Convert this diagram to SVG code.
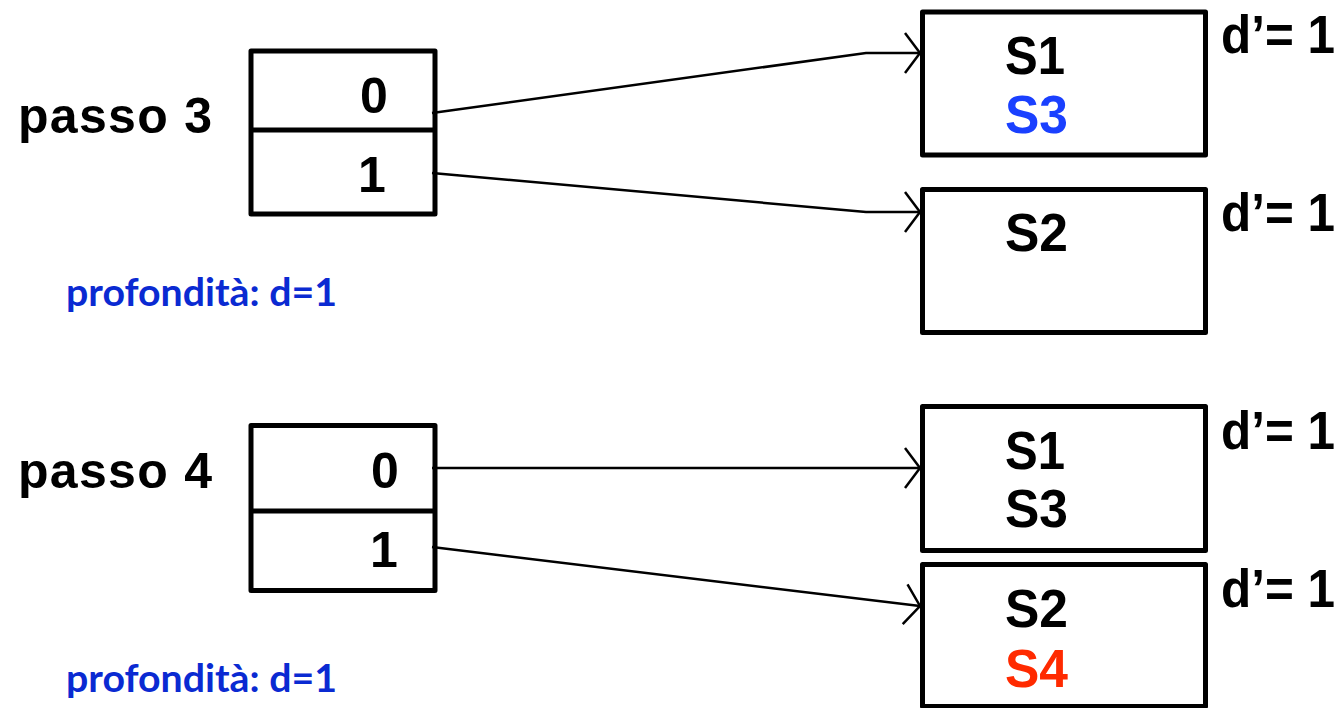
<svg xmlns="http://www.w3.org/2000/svg" width="1344" height="708" viewBox="0 0 1344 708">
<defs>
<style>
.box{fill:none;stroke:#000;stroke-width:5;stroke-linejoin:round}
.t{font-family:"Liberation Sans",Arial,sans-serif;font-weight:bold;fill:#000}
.lbl{font-size:50px}
.s{font-size:54px}
.p{font-family:Lato,"Open Sans",sans-serif;font-weight:bold;font-size:39px;fill:#0a2ad2}
.c{fill:none;stroke:#000;stroke-width:2.5}
</style>
<marker id="ah" markerWidth="24" markerHeight="46" refX="20" refY="23" orient="auto" markerUnits="userSpaceOnUse">
<path d="M5,3 L20,23 L5,43" fill="none" stroke="#000" stroke-width="2.5"/>
</marker>
</defs>
<rect width="1344" height="708" fill="#fff"/>

<g id="passo3">
<text class="t lbl" x="18" y="133" textLength="194">passo 3</text>
<rect class="box" x="251" y="51" width="184" height="163"/>
<line class="box" x1="251" y1="130" x2="435" y2="130"/>
<text class="t lbl" x="360" y="113">0</text>
<text class="t lbl" x="358" y="192">1</text>
<text class="p" x="66" y="306" textLength="271" lengthAdjust="spacingAndGlyphs">profondità: d=1</text>
</g>

<g id="box1">
<rect class="box" x="922.5" y="12" width="283" height="143"/>
<text class="t s" x="1005" y="74" textLength="60" lengthAdjust="spacingAndGlyphs">S1</text>
<text class="t s" x="1005" y="133" textLength="63" lengthAdjust="spacingAndGlyphs" style="fill:#1a40ff">S3</text>
<text class="t s" x="1221" y="53" textLength="114" lengthAdjust="spacingAndGlyphs">d’= 1</text>
</g>

<g id="box2">
<rect class="box" x="922.5" y="189.5" width="283" height="143"/>
<text class="t s" x="1005" y="251" textLength="63" lengthAdjust="spacingAndGlyphs">S2</text>
<text class="t s" x="1221" y="231" textLength="114" lengthAdjust="spacingAndGlyphs">d’= 1</text>
</g>

<g id="passo4">
<text class="t lbl" x="18" y="488" textLength="194">passo 4</text>
<rect class="box" x="251" y="425.5" width="184" height="165"/>
<line class="box" x1="251" y1="511" x2="435" y2="511"/>
<text class="t lbl" x="371" y="488">0</text>
<text class="t lbl" x="370" y="567">1</text>
<text class="p" x="66" y="692" textLength="271" lengthAdjust="spacingAndGlyphs">profondità: d=1</text>
</g>

<g id="box3">
<rect class="box" x="922.5" y="406.5" width="283" height="144"/>
<text class="t s" x="1005" y="469" textLength="60" lengthAdjust="spacingAndGlyphs">S1</text>
<text class="t s" x="1005" y="527" textLength="63" lengthAdjust="spacingAndGlyphs">S3</text>
<text class="t s" x="1221" y="449" textLength="114" lengthAdjust="spacingAndGlyphs">d’= 1</text>
</g>

<g id="box4">
<rect class="box" x="922.5" y="564.5" width="283" height="142"/>
<text class="t s" x="1005" y="627" textLength="63" lengthAdjust="spacingAndGlyphs">S2</text>
<text class="t s" x="1005" y="687" textLength="63" lengthAdjust="spacingAndGlyphs" style="fill:#ff2a00">S4</text>
<text class="t s" x="1221" y="607" textLength="114" lengthAdjust="spacingAndGlyphs">d’= 1</text>
</g>

<g id="connectors">
<polyline class="c" points="432,113 866,53 920,53" marker-end="url(#ah)"/>
<polyline class="c" points="432,173 866,212 920,212" marker-end="url(#ah)"/>
<polyline class="c" points="432,468 920,468" marker-end="url(#ah)"/>
<polyline class="c" points="432,547 920,606" marker-end="url(#ah)"/>
</g>
</svg>
